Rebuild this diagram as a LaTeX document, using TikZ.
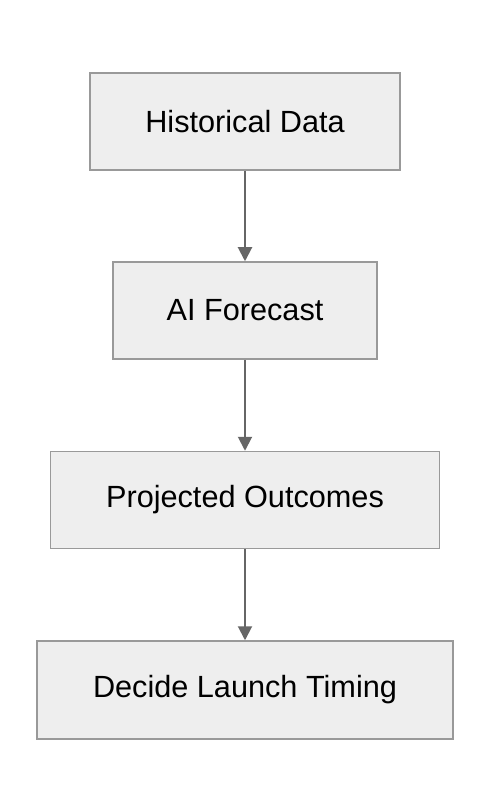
\documentclass[tikz,border=0pt]{standalone}
\usepackage{fontspec}
\setmainfont{Liberation Sans}
\usetikzlibrary{arrows.meta}
\definecolor{boxfill}{HTML}{EEEEEE}
\definecolor{boxline}{HTML}{999999}
\definecolor{arrowcol}{HTML}{666666}
\begin{document}
\begin{tikzpicture}[x=0.75pt,y=-0.75pt,
  stepbox/.style={draw=boxline,fill=boxfill,line width=1.5pt*0.75,inner sep=0pt,
    font=\fontsize{23}{27}\selectfont,text=black},
  flow/.style={draw=arrowcol,line width=2pt*0.75,-{Triangle[length=10.5pt,width=10.5pt]}}]
\useasboundingbox (0,0) rectangle (490,812);
\node[stepbox,minimum width=310*0.75pt,minimum height=97*0.75pt] (a) at (245,121.5) {Historical Data};
\node[stepbox,minimum width=264*0.75pt,minimum height=97*0.75pt] (b) at (245,310.5) {AI Forecast};
\node[stepbox,minimum width=389*0.75pt,minimum height=97*0.75pt] (c) at (245,500) {Projected Outcomes};
\node[stepbox,minimum width=416*0.75pt,minimum height=98*0.75pt] (d) at (245,690) {Decide Launch Timing};
\draw[flow] (a.south) -- (b.north);
\draw[flow] (b.south) -- (c.north);
\draw[flow] (c.south) -- (d.north);
\end{tikzpicture}
\end{document}
